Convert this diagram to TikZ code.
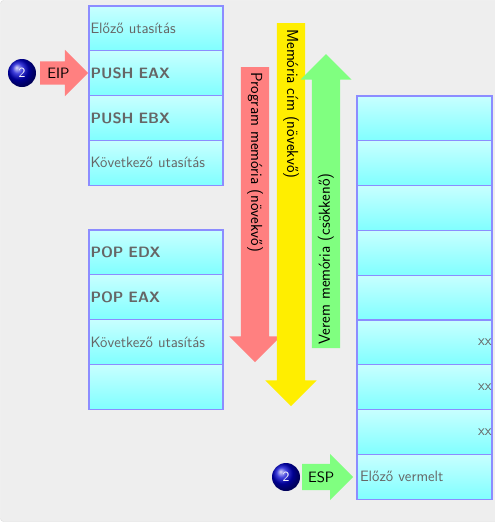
\documentclass[tikz,border=0pt]{standalone}
\usetikzlibrary{positioning,shapes.arrows}

\definecolor{bgfill}{HTML}{EEEEEE}
\definecolor{bgline}{HTML}{DCDCDC}
\definecolor{cellline}{HTML}{8C8CFF}
\definecolor{celltop}{HTML}{C8FFFF}
\definecolor{cellbot}{HTML}{80FFFF}
\definecolor{txtgray}{HTML}{666666}
\definecolor{pmred}{HTML}{FF8080}
\definecolor{addryellow}{HTML}{FFEE00}
\definecolor{stkgreen}{HTML}{80FF80}
\definecolor{ballblue}{HTML}{0000D0}

\tikzset{
	cell/.style={draw=cellline, line width=1.2pt, outer sep=0pt, top color=celltop, bottom color=cellbot,
		minimum height=44.8pt, text width=131pt, inner xsep=1.5pt, inner ysep=0pt,
		align=left, text=txtgray, font=\sffamily\fontsize{15}{18}\selectfont},
	instr/.style={cell, font=\sffamily\bfseries\fontsize{15}{18}\selectfont},
	rcell/.style={cell, text width=129pt, inner xsep=3pt},
	xxlabel/.style={text=txtgray, font=\sffamily\fontsize{15}{18}\selectfont, anchor=west, inner sep=0pt, xshift=-14pt},
	bigarrow/.style={single arrow, single arrow head extend=11.5pt, inner xsep=0pt, inner ysep=14pt, outer sep=0pt},
	ptrarrow/.style={single arrow, inner xsep=2pt, outer sep=0pt, font=\sffamily\fontsize{15}{18}\selectfont},
	vlabel/.style={inner sep=0pt, font=\sffamily\fontsize{16}{18}\selectfont},
	ball/.style={circle, shading=ball, ball color=ballblue, minimum size=28pt, inner sep=0pt,
		text=white, font=\sffamily\fontsize{14}{14}\selectfont},
}

\begin{document}
\begin{tikzpicture}[
		x=1pt, y=-1pt,
		node distance=0pt,
	]
		\useasboundingbox (0,0) rectangle (495,523);
		\fill[bgfill, draw=bgline, rounded corners=3pt] (0.5,0.5) rectangle (498,521.5);

		% program memory
		\node [cell, anchor=north west] (p1) at (89,6) {Előző utasítás};
		\node [instr, below=of p1] (p2) {PUSH EAX};
		\node [instr, below=of p2] (p3) {PUSH EBX};
		\node [cell, below=of p3] (p4) {Következő utasítás};

		\node [instr, anchor=north west] (q1) at (89,230) {POP EDX};
		\node [instr, below=of q1] (q2) {POP EAX};
		\node [cell, below=of q2] (q3) {Következő utasítás};
		\node [cell, below=of q3] (q4) {};

		% stack
		\node [rcell, anchor=north west] (s1) at (357,96) {};
		\node [rcell, below=of s1] (s2) {};
		\node [rcell, below=of s2] (s3) {};
		\node [rcell, below=of s3] (s4) {};
		\node [rcell, below=of s4] (s5) {};
		\node [rcell, below=of s5, label={[xxlabel]east:xx}] (s6) {};
		\node [rcell, below=of s6, label={[xxlabel]east:xx}] (s7) {};
		\node [rcell, below=of s7, label={[xxlabel]east:xx}] (s8) {};
		\node [rcell, below=of s8] (s9) {Előző vermelt};

		% direction arrows
		\node [bigarrow, fill=pmred, minimum height=295pt, rotate=-90, anchor=tail] (pmem) at (255,67) {};
		\node [bigarrow, fill=addryellow, minimum height=383pt, rotate=-90, anchor=tail] (addr) at (291,23) {};
		\node [bigarrow, fill=stkgreen, minimum height=294pt, rotate=90, anchor=tail] (stk) at (326,348) {};
		\node [vlabel, rotate=-90, anchor=west] (pmemlbl) at ([yshift=-5pt]pmem.tail) {Program memória (növekvő)};
		\node [vlabel, rotate=-90, anchor=west] (addrlbl) at ([yshift=-6pt]addr.tail) {Memória cím (növekvő)};
		\node [vlabel, rotate=90, anchor=west] (stklbl) at ([yshift=3pt]stk.tail) {Verem memória (csökkenő)};

		% pointers
		\node [ball] (eipball) at (22,73) {2};
		\node [ptrarrow, fill=pmred, inner ysep=6.3pt, single arrow head extend=11.5pt, minimum height=48pt, right=4pt of eipball] (eip) {EIP};
		\node [ball] (espball) at (286,477) {2};
		\node [ptrarrow, fill=stkgreen, inner ysep=7.3pt, single arrow head extend=10pt, minimum height=51pt, right=2pt of espball] (esp) {ESP};
	\end{tikzpicture}
\end{document}
